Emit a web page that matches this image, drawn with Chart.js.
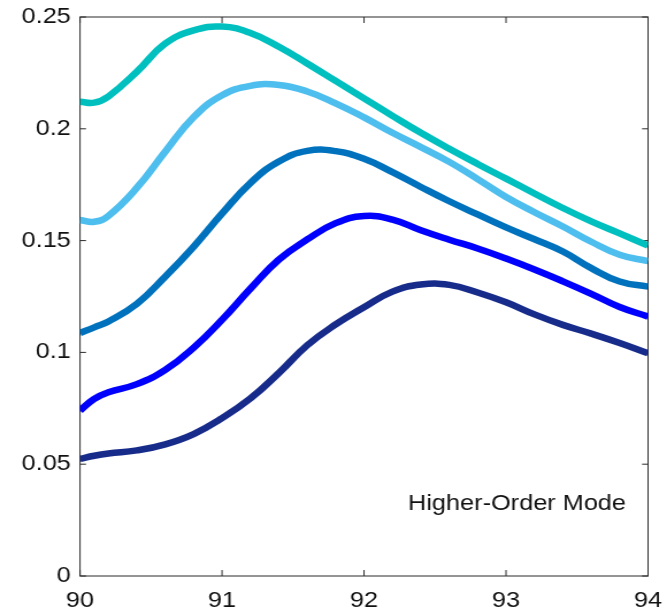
<!DOCTYPE html>
<html>
<head>
<meta charset="utf-8">
<script src="https://cdn.jsdelivr.net/npm/chart.js@4.4.1/dist/chart.umd.min.js"></script>
<style>
  html, body { margin: 0; padding: 0; background: #fff; overflow: hidden; }
  /* the figure is drawn narrow and widened horizontally */
  #stage { width: 580px; height: 612px; transform: scaleX(1.15); transform-origin: 0 0; }
</style>
</head>
<body>
<div id="stage"><canvas id="c"></canvas></div>
<script>
// Frequency samples
const freq = [90.0, 90.1, 90.2, 90.4, 90.6, 90.8, 91.0, 91.2, 91.4, 91.6, 91.8,
              92.0, 92.2, 92.4, 92.6, 92.8, 93.0, 93.2, 93.4, 93.6, 93.8, 94.0];

// Response of each curve, top to bottom
const curveTeal  = [0.2121, 0.2117, 0.2145, 0.2255, 0.2381, 0.2440, 0.2457, 0.2428, 0.2367, 0.2292, 0.2214,
                    0.2136, 0.2058, 0.1982, 0.1911, 0.1843, 0.1777, 0.1711, 0.1646, 0.1586, 0.1532, 0.1478];
const curveSky   = [0.1592, 0.1584, 0.1611, 0.1736, 0.1898, 0.2052, 0.2150, 0.2192, 0.2196, 0.2167, 0.2114,
                    0.2051, 0.1982, 0.1918, 0.1852, 0.1775, 0.1695, 0.1627, 0.1563, 0.1495, 0.1437, 0.1408];
const curveMid   = [0.1087, 0.1112, 0.1138, 0.1217, 0.1339, 0.1473, 0.1621, 0.1758, 0.1854, 0.1901, 0.1900,
                    0.1866, 0.1806, 0.1740, 0.1676, 0.1617, 0.1559, 0.1506, 0.1451, 0.1377, 0.1317, 0.1294];
const curveBlue  = [0.0740, 0.0792, 0.0822, 0.0858, 0.0922, 0.1021, 0.1146, 0.1285, 0.1415, 0.1505, 0.1578,
                    0.1610, 0.1594, 0.1546, 0.1504, 0.1465, 0.1420, 0.1371, 0.1318, 0.1262, 0.1203, 0.1160];
const curveNavy  = [0.0524, 0.0538, 0.0548, 0.0562, 0.0589, 0.0635, 0.0706, 0.0794, 0.0908, 0.1032, 0.1125,
                    0.1202, 0.1272, 0.1304, 0.1302, 0.1268, 0.1224, 0.1170, 0.1123, 0.1084, 0.1042, 0.0996];

// Axis ticks
const xTickValues = [90, 91, 92, 93, 94];
const xTickLabels = ['90', '91', '92', '93', '94'];
const yTickValues = [0, 0.05, 0.1, 0.15, 0.2, 0.25];
const yTickLabels = ['0', '0.05', '0.1', '0.15', '0.2', '0.25'];

// Annotation
const noteText = 'Higher-Order Mode';
const notePos = { x: 92.31, y: 0.0295 };

const curves = [
  { values: curveTeal, color: '#00BFBF' },
  { values: curveSky,  color: '#4DBEEE' },
  { values: curveMid,  color: '#0072BD' },
  { values: curveBlue, color: '#0000FF' },
  { values: curveNavy, color: '#172B8A' }
];

const FONT = '"Liberation Sans", Arial, Helvetica, sans-serif';

// Box around the plot with inward tick marks (drawn beneath the curves)
const framePlugin = {
  id: 'frame',
  beforeDatasetsDraw(chart) {
    const { ctx, chartArea: a, scales: { x, y } } = chart;
    ctx.save();
    ctx.strokeStyle = '#2a2a2a';
    ctx.lineWidth = 1;
    ctx.beginPath();
    x.ticks.forEach(t => {
      const px = x.getPixelForValue(t.value);
      ctx.moveTo(px, a.bottom); ctx.lineTo(px, a.bottom - 6);
      ctx.moveTo(px, a.top);    ctx.lineTo(px, a.top + 6);
    });
    y.ticks.forEach(t => {
      const py = y.getPixelForValue(t.value);
      ctx.moveTo(a.left, py);  ctx.lineTo(a.left + 5.2, py);
      ctx.moveTo(a.right, py); ctx.lineTo(a.right - 5.2, py);
    });
    ctx.stroke();
    ctx.strokeRect(a.left, a.top, a.right - a.left, a.bottom - a.top);
    ctx.restore();
  },
  afterDraw(chart) {
    const { ctx, scales: { x, y } } = chart;
    ctx.save();
    ctx.fillStyle = '#111';
    ctx.font = '22px ' + FONT;
    ctx.textAlign = 'left';
    ctx.textBaseline = 'alphabetic';
    ctx.fillText(noteText, x.getPixelForValue(notePos.x), y.getPixelForValue(notePos.y));
    ctx.restore();
  }
};

new Chart(document.getElementById('c'), {
  type: 'line',
  data: {
    datasets: curves.map(c => ({
      data: freq.map((f, i) => ({ x: f, y: c.values[i] })),
      borderColor: c.color,
      backgroundColor: c.color,
      borderWidth: 6.5,
      pointRadius: 0,
      fill: false,
      tension: 0.45,
      borderCapStyle: 'butt',
      borderJoinStyle: 'round'
    }))
  },
  options: {
    responsive: true,
    maintainAspectRatio: false,
    animation: false,
    devicePixelRatio: 1,
    layout: { padding: { left: 0, right: 16.5, top: 17, bottom: 0 } },
    plugins: { legend: { display: false }, tooltip: { enabled: false } },
    scales: {
      x: {
        type: 'linear',
        min: 90, max: 94,
        grid: { display: false, drawTicks: false },
        border: { display: false },
        afterBuildTicks: s => { s.ticks = xTickValues.map(v => ({ value: v })); },
        afterFit: s => { s.height = 36; s.paddingLeft = 0; s.paddingRight = 0; },
        ticks: {
          padding: 12,
          color: '#111',
          font: { family: FONT, size: 22 },
          maxRotation: 0,
          callback: (v, i) => xTickLabels[i]
        }
      },
      y: {
        type: 'linear',
        min: 0, max: 0.25,
        grid: { display: false, drawTicks: false },
        border: { display: false },
        afterBuildTicks: s => { s.ticks = yTickValues.map(v => ({ value: v })); },
        afterFit: s => { s.width = 69.6; s.paddingTop = 0; s.paddingBottom = 0; },
        ticks: {
          padding: 8,
          color: '#111',
          font: { family: FONT, size: 22 },
          callback: (v, i) => yTickLabels[i]
        }
      }
    }
  },
  plugins: [framePlugin]
});
</script>
</body>
</html>
